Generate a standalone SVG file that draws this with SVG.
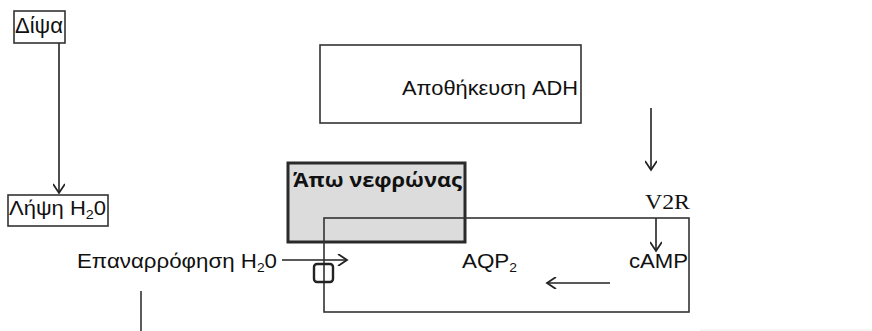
<svg xmlns="http://www.w3.org/2000/svg" width="872" height="331" viewBox="0 0 872 331">
<defs>
<marker id="open" markerWidth="12" markerHeight="12" refX="10" refY="6" orient="auto" markerUnits="userSpaceOnUse">
<path d="M1,0 L10,6 L1,12" fill="none" stroke="#222" stroke-width="1.8"/>
</marker>
<style>
.box{fill:#fff;stroke:#333;stroke-width:1.6}
.t{font-family:"Liberation Sans",Arial,sans-serif;font-size:21px;fill:#111}
.ln{stroke:#333;stroke-width:1.6;fill:none}
.ar{stroke:#222;stroke-width:1.6;fill:none;marker-end:url(#open)}
</style>
</defs>
<rect width="872" height="331" fill="#fff"/>
<g id="connectors">
<line class="ar" x1="59" y1="43" x2="59" y2="193"/>
<line class="ar" x1="282" y1="260" x2="347" y2="260"/>
<line class="ar" x1="651" y1="108" x2="651" y2="170"/>
<line class="ar" x1="656" y1="218" x2="656" y2="251"/>
<line class="ar" x1="610" y1="283" x2="547" y2="283"/>
<line class="ln" x1="141" y1="291" x2="141" y2="331"/>
<line x1="700" y1="330" x2="872" y2="330" stroke="#ececec" stroke-width="1.2"/>
</g>
<g id="dipsa">
<rect class="box" x="14" y="11" width="51" height="32"/>
<text class="t" x="15" y="33" font-size="22" style="font-size:22px" textLength="48" lengthAdjust="spacingAndGlyphs">Δίψα</text>
</g>
<g id="lipsi">
<rect class="box" x="8" y="195" width="100" height="31"/>
<text class="t" x="9" y="215" style="font-size:20px" textLength="97" lengthAdjust="spacingAndGlyphs">Λήψη H<tspan style="font-size:13px" dy="4">2</tspan><tspan dy="-4">0</tspan></text>
</g>
<g id="epanarrofisi">
<text class="t" x="77" y="268" textLength="200" lengthAdjust="spacingAndGlyphs">Επαναρρόφηση H<tspan style="font-size:13px" dy="4">2</tspan><tspan dy="-4">0</tspan></text>
</g>
<g id="adh">
<rect class="box" x="320" y="45" width="261" height="78"/>
<text class="t" x="402" y="95" textLength="176" lengthAdjust="spacingAndGlyphs">Αποθήκευση ADH</text>
</g>
<g id="apo">
<rect x="288" y="163" width="177" height="79" fill="#dcdcdc" stroke="#2a2a2a" stroke-width="3"/>
<text x="293" y="187" font-family="'Open Sans','Noto Sans',sans-serif" font-weight="bold" font-size="19" fill="#111" textLength="169" lengthAdjust="spacingAndGlyphs">Άπω νεφρώνας</text>
</g>
<g id="cell">
<rect x="324" y="218" width="365" height="94" fill="none" stroke="#333" stroke-width="1.6"/>
<rect x="314" y="264" width="19" height="18" rx="3" fill="none" stroke="#222" stroke-width="2.4"/>
</g>
<g id="v2r">
<text x="645" y="209" font-family="'Liberation Serif','Times New Roman',serif" font-size="22" fill="#111" textLength="45" lengthAdjust="spacingAndGlyphs">V2R</text>
</g>
<g id="camp">
<text class="t" x="629" y="268" textLength="59" lengthAdjust="spacingAndGlyphs">cAMP</text>
</g>
<g id="aqp">
<text class="t" x="462" y="268" textLength="55" lengthAdjust="spacingAndGlyphs">AQP<tspan style="font-size:13px" dy="4">2</tspan></text>
</g>
</svg>
